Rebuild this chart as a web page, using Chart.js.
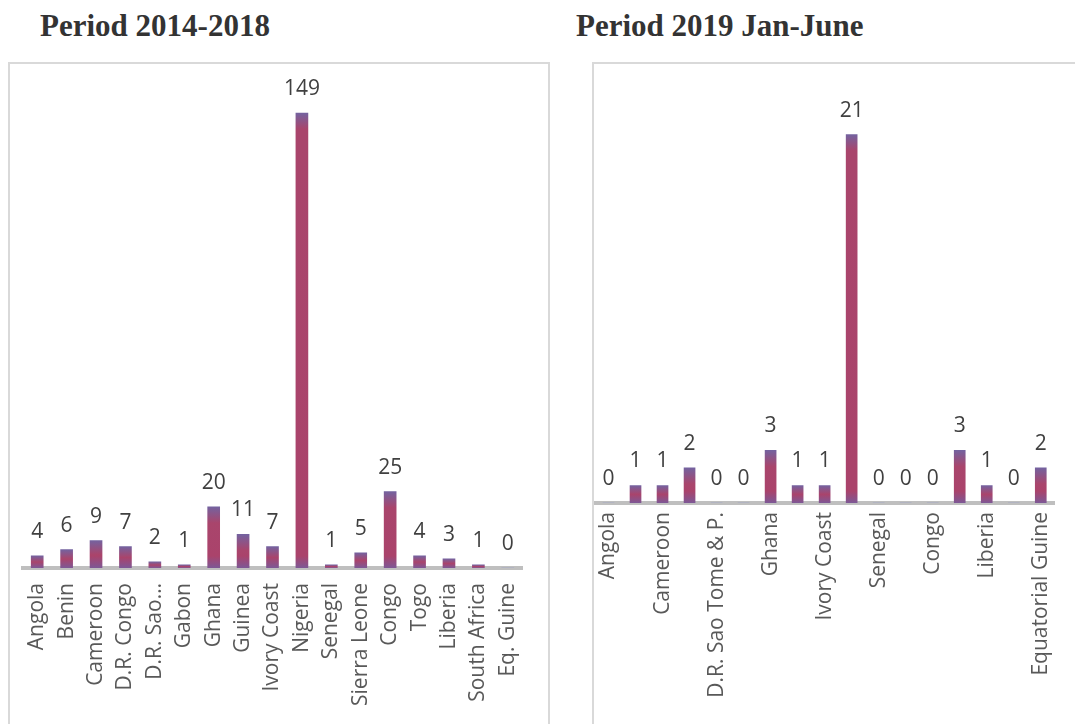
<!DOCTYPE html>
<html>
<head>
<meta charset="utf-8">
<script src="https://cdn.jsdelivr.net/npm/chart.js@4.4.1/dist/chart.umd.min.js"></script>
<style>
  body { margin: 0; background: #fff; width: 1075px; height: 724px; overflow: hidden; position: relative; }
  .title { position: absolute; font-family: "Liberation Serif", "Times New Roman", serif; font-weight: bold; font-size: 31px; line-height: 31px; color: #333; white-space: nowrap; }
  .box { position: absolute; border-top: 2px solid #d9d9d9; border-left: 2px solid #d9d9d9; }
  canvas { display: block; }
</style>
</head>
<body>
<div class="title" style="left:40px; top:10px;">Period 2014-2018</div>
<div class="title" style="left:576px; top:10px;">Period 2019 Jan-June</div>

<div class="box" style="left:8px; top:62px; width:538px; height:662px; border-right:2px solid #d9d9d9;">
  <canvas id="leftChart" width="538" height="660"></canvas>
</div>
<div class="box" style="left:592px; top:62px; width:481px; height:662px;">
  <canvas id="rightChart" width="481" height="660"></canvas>
</div>

<script>
// data
const countries2014 = ['Angola', 'Benin', 'Cameroon', 'D.R. Congo', 'D.R. Sao Tome & P.', 'Gabon', 'Ghana', 'Guinea',
  'Ivory Coast', 'Nigeria', 'Senegal', 'Sierra Leone', 'Congo', 'Togo', 'Liberia', 'South Africa', 'Eq. Guine'];
const values2014 = [4, 6, 9, 7, 2, 1, 20, 11, 7, 149, 1, 5, 25, 4, 3, 1, 0];

const countries2019 = ['Angola', 'Benin', 'Cameroon', 'D.R. Congo', 'D.R. Sao Tome & P.', 'Gabon', 'Ghana', 'Guinea',
  'Ivory Coast', 'Nigeria', 'Senegal', 'Sierra Leone', 'Congo', 'Togo', 'Liberia', 'South Africa', 'Equatorial Guine'];
const values2019 = [0, 1, 1, 2, 0, 0, 3, 1, 1, 21, 0, 0, 0, 3, 1, 0, 2];

const FONT = '"Open Sans", "Noto Sans", sans-serif';

// excel-ish gradient, purple at the ends, crimson in the middle
function barFill(context) {
  const chart = context.chart;
  if (!chart.chartArea || context.type !== 'data') return '#a8416b';
  const y = chart.scales.y;
  const top = y.getPixelForValue(context.raw);
  const base = y.getPixelForValue(0);
  const h = base - top;
  if (h < 1) return '#8a93c8';
  const g = chart.ctx.createLinearGradient(0, top, 0, base);
  g.addColorStop(0, '#74629f');
  g.addColorStop(Math.min(0.5, 16 / h), '#a9456c');
  g.addColorStop(Math.max(0.5, 1 - 12 / h), '#aa436b');
  g.addColorStop(1, '#7d5896');
  return g;
}

// value labels above bars
const valueLabels = {
  id: 'valueLabels',
  afterDatasetsDraw(chart) {
    const ctx = chart.ctx;
    const meta = chart.getDatasetMeta(0);
    const data = chart.data.datasets[0].data;
    ctx.save();
    ctx.font = '21px ' + FONT;
    ctx.fillStyle = '#404040';
    ctx.textAlign = 'center';
    ctx.textBaseline = 'alphabetic';
    meta.data.forEach(function(bar, i) {
      ctx.fillText(String(data[i]), bar.x, bar.y - 18);
    });
    ctx.restore();
  }
};

function makeChart(id, labels, values, opts) {
  return new Chart(document.getElementById(id), {
    type: 'bar',
    data: {
      labels: labels,
      datasets: [{
        data: values,
        backgroundColor: barFill,
        barThickness: opts.barWidth,
        borderWidth: 0
      }]
    },
    options: {
      responsive: false,
      animation: false,
      layout: { padding: { top: opts.padTop, left: opts.padLeft, right: opts.padRight, bottom: 0 } },
      plugins: { legend: { display: false }, tooltip: { enabled: false } },
      scales: {
        x: {
          z: 1,
          grid: { display: false, drawTicks: false },
          border: { color: '#bfbfbf', width: 4 },
          ticks: {
            autoSkip: false,
            maxRotation: 90,
            minRotation: 90,
            padding: opts.tickPad,
            color: '#595959',
            font: { family: FONT, size: 21 },
            callback: opts.tickText
          },
          afterFit: function(scale) { scale.height = opts.axisHeight; }
        },
        y: {
          display: false,
          min: 0,
          max: opts.yMax
        }
      }
    },
    plugins: [valueLabels]
  });
}

makeChart('leftChart', countries2014, values2014, {
  barWidth: 12, padTop: 15.4, padLeft: 12.5, padRight: 0, tickPad: 15, axisHeight: 156, yMax: 160,
  tickText: function(v, i) {
    const s = this.getLabelForValue(v);
    return s.length > 14 ? s.slice(0, 8) + '…' : s;
  }
});

makeChart('rightChart', countries2019, values2019, {
  barWidth: 11, padTop: 18, padLeft: 1, padRight: 1, tickPad: 9, axisHeight: 221, yMax: 24,
  tickText: function(v, i) {
    return i % 2 ? '' : this.getLabelForValue(v);
  }
});
</script>
</body>
</html>
